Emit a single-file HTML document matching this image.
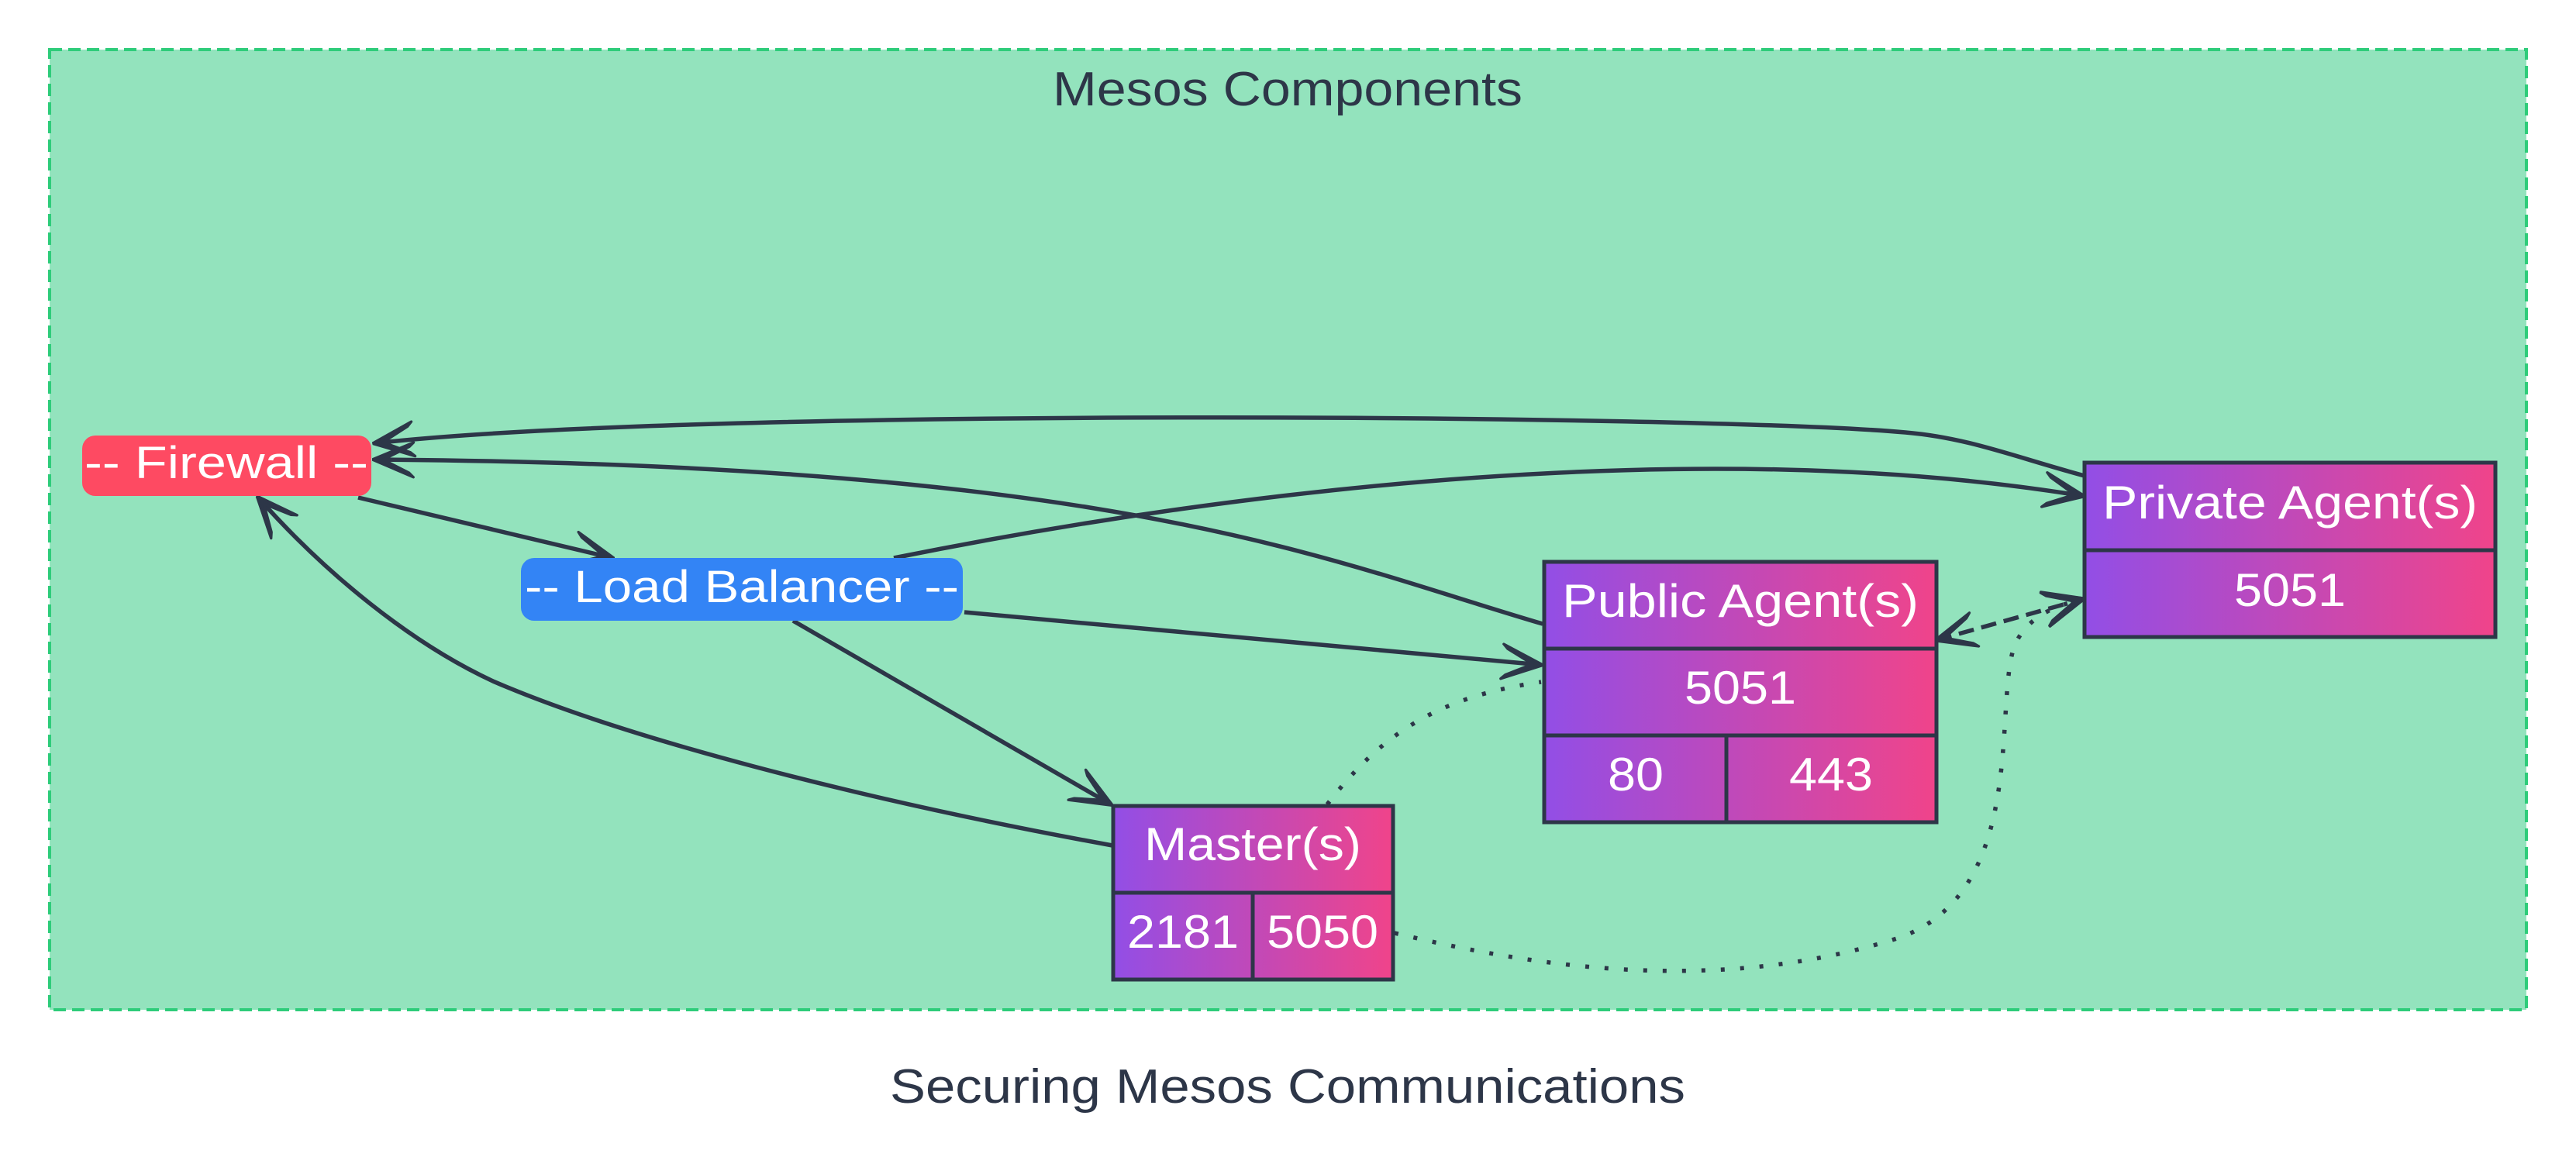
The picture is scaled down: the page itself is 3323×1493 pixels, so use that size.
<!DOCTYPE html>
<html><head><meta charset="utf-8"><style>
html,body{margin:0;padding:0;background:#fff;}
svg{display:block;}
text{font-family:"Liberation Sans",sans-serif;}
</style></head><body>
<svg width="3323" height="1493" viewBox="0 0 3323 1493" xmlns="http://www.w3.org/2000/svg">
<defs>
<linearGradient id="g" x1="0" y1="0" x2="1" y2="0">
<stop offset="0" stop-color="#924ee6"/><stop offset="1" stop-color="#f0448a"/>
</linearGradient>
<marker id="b" viewBox="0 0 20 20" refX="19" refY="10" markerWidth="56" markerHeight="56" markerUnits="userSpaceOnUse" orient="auto-start-reverse">
<path d="M1,2 L20,10 L1,18 L3,16 L15,10 L3,4 z" fill="#2d3648" stroke="#2d3648" stroke-width="1.2" stroke-linejoin="round"/>
</marker>
</defs>
<rect x="64" y="64" width="3195" height="1239" fill="#93e3bd" stroke="#2ecc7a" stroke-width="4" stroke-dasharray="16,8"/>
<text x="1661" y="136" font-size="62" fill="#2d3648" text-anchor="middle" textLength="606" lengthAdjust="spacingAndGlyphs">Mesos Components</text>
<text x="1661" y="1423" font-size="62" fill="#2d3648" text-anchor="middle" textLength="1026" lengthAdjust="spacingAndGlyphs">Securing Mesos Communications</text>

<g fill="none" stroke="#2d3648" stroke-width="5.5">
<path d="M2689,614 C2600,590 2540,565 2458,558 C2200,535 900,525 483,572" marker-end="url(#b)"/>
<path d="M1990,805 C1700,720 1450,600 483,593" marker-end="url(#b)"/>
<path d="M462,642 L790,720" marker-end="url(#b)"/>
<path d="M1435,1091 C1100,1030 800,950 636,879 C530,830 420,740 333,642" marker-end="url(#b)"/>
<path d="M1153,720 C1600,630 2200,560 2687,640" marker-end="url(#b)"/>
<path d="M1244,790 L1988,858" marker-end="url(#b)"/>
<path d="M1023,801 L1433,1038" marker-end="url(#b)"/>
<path d="M1712,1038 C1780,950 1850,900 1988,880" stroke-dasharray="5,20"/>
<path d="M1799,1204 C1950,1240 2200,1290 2450,1210 C2620,1150 2570,900 2600,830 C2620,790 2660,780 2687,773" stroke-dasharray="5,20" marker-end="url(#b)"/>
<path d="M2498,826 L2687,773" stroke-dasharray="20,10" marker-start="url(#b)" marker-end="url(#b)"/>
</g>

<rect x="106" y="562" width="373" height="78" rx="17" fill="#fe4a62"/>
<text x="292" y="617" font-size="58" fill="#fff" text-anchor="middle" textLength="366" lengthAdjust="spacingAndGlyphs">-- Firewall --</text>
<rect x="672" y="720" width="570" height="81" rx="17" fill="#3384f5"/>
<text x="957" y="777" font-size="58" fill="#fff" text-anchor="middle" textLength="560" lengthAdjust="spacingAndGlyphs">-- Load Balancer --</text>

<g stroke="#2d3648" stroke-width="5">
<rect x="1436" y="1040" width="361" height="224" fill="url(#g)"/>
<line x1="1436" y1="1152" x2="1797" y2="1152"/>
<line x1="1616" y1="1152" x2="1616" y2="1264"/>
<rect x="1992" y="725" width="506" height="336" fill="url(#g)"/>
<line x1="1992" y1="837" x2="2498" y2="837"/>
<line x1="1992" y1="949" x2="2498" y2="949"/>
<line x1="2227" y1="949" x2="2227" y2="1061"/>
<rect x="2689" y="597" width="530" height="225" fill="url(#g)"/>
<line x1="2689" y1="710" x2="3219" y2="710"/>
</g>
<g fill="#fff" font-size="60" text-anchor="middle">
<text x="1616" y="1110" textLength="280" lengthAdjust="spacingAndGlyphs">Master(s)</text>
<text x="1526" y="1223" textLength="144" lengthAdjust="spacingAndGlyphs">2181</text>
<text x="1706" y="1223" textLength="144" lengthAdjust="spacingAndGlyphs">5050</text>
<text x="2245" y="796" textLength="460" lengthAdjust="spacingAndGlyphs">Public Agent(s)</text>
<text x="2245" y="908" textLength="144" lengthAdjust="spacingAndGlyphs">5051</text>
<text x="2110" y="1020" textLength="72" lengthAdjust="spacingAndGlyphs">80</text>
<text x="2362" y="1020" textLength="108" lengthAdjust="spacingAndGlyphs">443</text>
<text x="2954" y="669" textLength="484" lengthAdjust="spacingAndGlyphs">Private Agent(s)</text>
<text x="2954" y="782" textLength="144" lengthAdjust="spacingAndGlyphs">5051</text>
</g>
</svg>
</body></html>
